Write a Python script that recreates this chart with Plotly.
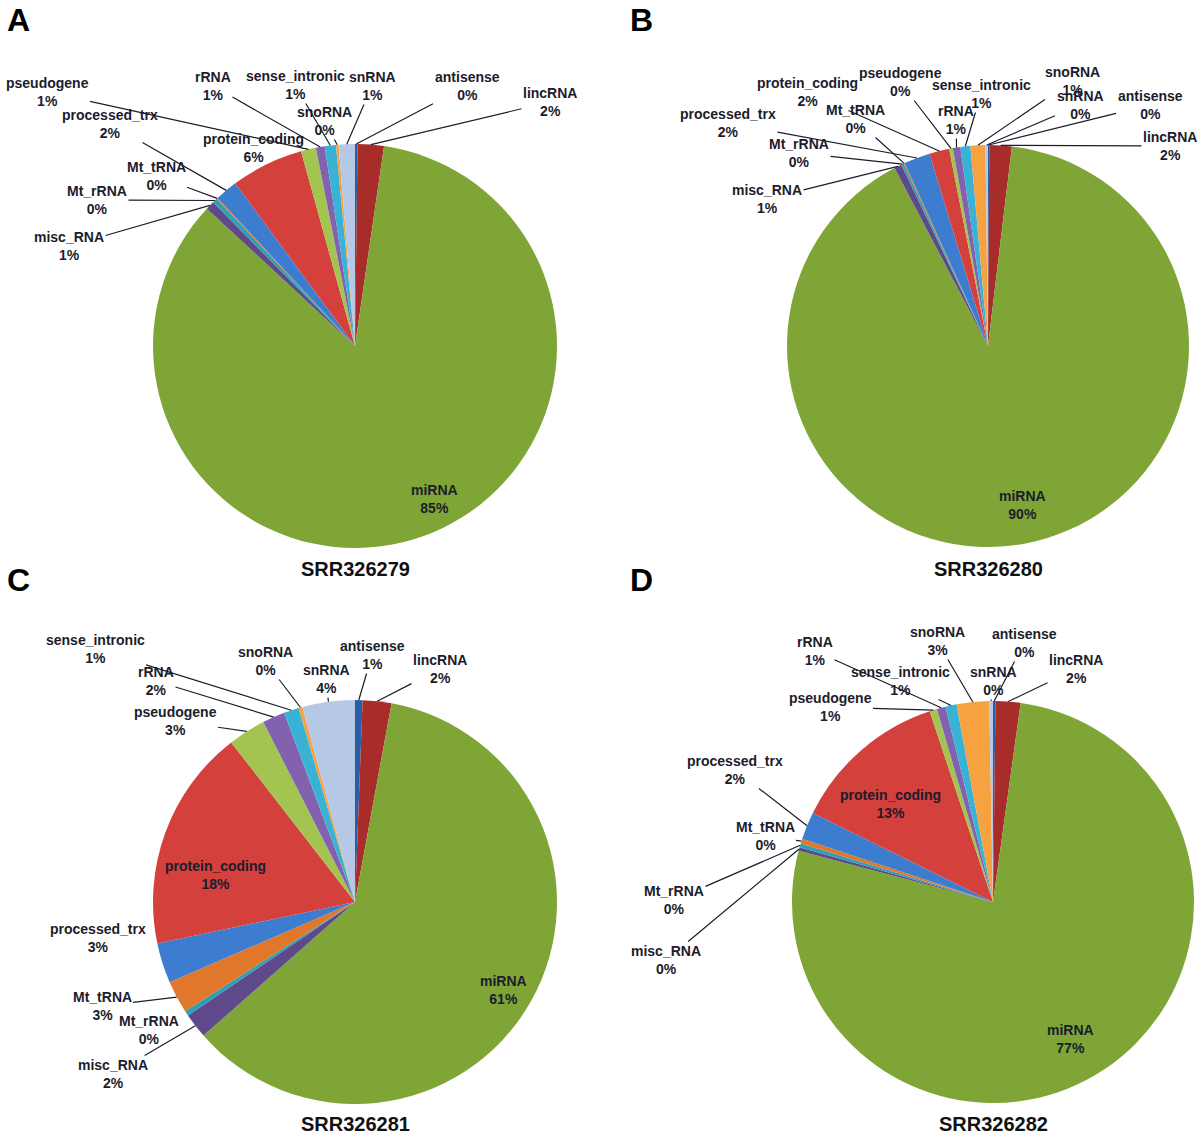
import math
import plotly.graph_objects as go

W, H = 1200, 1134

# ---------------- data ----------------
categories = ["antisense", "lincRNA", "miRNA", "misc_RNA", "Mt_rRNA", "Mt_tRNA",
              "processed_trx", "protein_coding", "pseudogene", "rRNA",
              "sense_intronic", "snoRNA", "snRNA"]

srr326279 = [0.2, 2.1, 84.6, 0.7, 0.4, 0.1, 1.8, 5.8, 1.2, 0.7, 0.9, 0.2, 1.3]
srr326280 = [0.1, 1.8, 90.4, 0.6, 0.2, 0.1, 2.1, 1.6, 0.3, 0.6, 0.8, 1.2, 0.2]
srr326281 = [0.6, 2.3, 60.6, 2.0, 0.4, 2.6, 3.2, 17.8, 3.0, 1.8, 1.2, 0.3, 4.2]
srr326282 = [0.2, 2.0, 76.9, 0.3, 0.3, 0.4, 2.2, 12.6, 0.6, 0.7, 0.9, 2.6, 0.3]

samples = ["SRR326279", "SRR326280", "SRR326281", "SRR326282"]
panel_letters = ["A", "B", "C", "D"]
series = [srr326279, srr326280, srr326281, srr326282]

# ---------------- styles / layout ----------------
colors = ["#2B5DA6", "#A82D2A", "#7EA535", "#5E4A8A", "#2FA0B4", "#E0772A",
          "#3C7DD0", "#D4403C", "#A3C451", "#8262AE", "#3AB2D6", "#F7A240", "#B5C9E6"]

# pie centre (px), radius (px)
geom = [(355, 346, 202), (988, 346, 201), (355, 902, 202), (993, 902, 201)]
title_y = [569, 569, 1124, 1124]
letter_pos = [(18, 20), (641, 20), (18, 580), (641, 580)]

# label block centres in px
label_pos = [
    {"pseudogene": (47, 92), "rRNA": (213, 86), "sense_intronic": (295, 85),
     "snRNA": (372, 86), "antisense": (467, 86), "lincRNA": (550, 102),
     "snoRNA": (324, 121), "processed_trx": (110, 124), "protein_coding": (253, 148),
     "Mt_tRNA": (156, 176), "Mt_rRNA": (97, 200), "misc_RNA": (69, 246),
     "miRNA": (434, 499)},
    {"protein_coding": (807, 92), "pseudogene": (900, 82), "sense_intronic": (981, 94),
     "snoRNA": (1072, 81), "snRNA": (1080, 105), "antisense": (1150, 105),
     "lincRNA": (1170, 146), "processed_trx": (728, 123), "Mt_tRNA": (855, 119),
     "rRNA": (956, 120), "Mt_rRNA": (799, 153), "misc_RNA": (767, 199),
     "miRNA": (1022, 505)},
    {"sense_intronic": (95, 649), "snoRNA": (265, 661), "antisense": (372, 655),
     "lincRNA": (440, 669), "rRNA": (156, 681), "snRNA": (326, 679),
     "pseudogene": (175, 721), "protein_coding": (215, 875), "processed_trx": (98, 938),
     "Mt_tRNA": (102, 1006), "Mt_rRNA": (149, 1030), "misc_RNA": (113, 1074),
     "miRNA": (503, 990)},
    {"rRNA": (815, 651), "snoRNA": (937, 641), "antisense": (1024, 643),
     "lincRNA": (1076, 669), "sense_intronic": (900, 681), "snRNA": (993, 681),
     "pseudogene": (830, 707), "processed_trx": (735, 770), "protein_coding": (890, 804),
     "Mt_tRNA": (765, 836), "Mt_rRNA": (674, 900), "misc_RNA": (666, 960),
     "miRNA": (1070, 1039)},
]
no_arrow = [
    {"protein_coding", "miRNA"},
    {"miRNA"},
    {"protein_coding", "processed_trx", "Mt_rRNA", "miRNA"},
    {"protein_coding", "miRNA"},
]

FONT = "Liberation Sans, Arial, sans-serif"
TXT = "#1c1c2c"

fig = go.Figure()
annotations = []

for i, vals in enumerate(series):
    cx, cy, r = geom[i]
    fig.add_trace(go.Pie(
        labels=categories, values=vals, sort=False, direction="clockwise",
        rotation=0, marker=dict(colors=colors, line=dict(width=0)),
        textinfo="none", hoverinfo="label+percent", showlegend=False,
        domain=dict(x=[(cx - r) / W, (cx + r) / W], y=[1 - (cy + r) / H, 1 - (cy - r) / H]),
    ))
    total = sum(vals)
    cum = 0.0
    for cat, v in zip(categories, vals):
        mid = (cum + v / 2) / total * 2 * math.pi
        cum += v
        tx = cx + r * math.sin(mid)
        ty = cy - r * math.cos(mid)
        pct = int(round(100 * v / total))
        lx, ly = label_pos[i][cat]
        text = f"<b>{cat}</b><br><b>{pct}%</b>"
        common = dict(xref="paper", yref="paper", text=text, align="center",
                      font=dict(family=FONT, size=14, color=TXT))
        if cat in no_arrow[i]:
            annotations.append(dict(x=lx / W, y=1 - ly / H, showarrow=False,
                                    xanchor="center", yanchor="middle", **common))
        else:
            annotations.append(dict(x=tx / W, y=1 - ty / H, ax=lx - tx, ay=ly - ty,
                                    showarrow=True, arrowhead=0, arrowwidth=1.2,
                                    arrowcolor=TXT, **common))
    annotations.append(dict(x=cx / W, y=1 - title_y[i] / H, xref="paper", yref="paper",
                            text=f"<b>{samples[i]}</b>", showarrow=False,
                            xanchor="center", yanchor="middle",
                            font=dict(family=FONT, size=20, color="#111111")))
    lxp, lyp = letter_pos[i]
    annotations.append(dict(x=lxp / W, y=1 - lyp / H, xref="paper", yref="paper",
                            text=f"<b>{panel_letters[i]}</b>", showarrow=False,
                            xanchor="center", yanchor="middle",
                            font=dict(family=FONT, size=32, color="#000000")))

fig.update_layout(
    width=W, height=H, margin=dict(l=0, r=0, t=0, b=0),
    paper_bgcolor="white", plot_bgcolor="white",
    annotations=annotations, showlegend=False,
)

fig.write_html("out.html", config={"displayModeBar": False},
               post_script="document.body.style.margin='0';document.body.style.overflow='hidden';")
